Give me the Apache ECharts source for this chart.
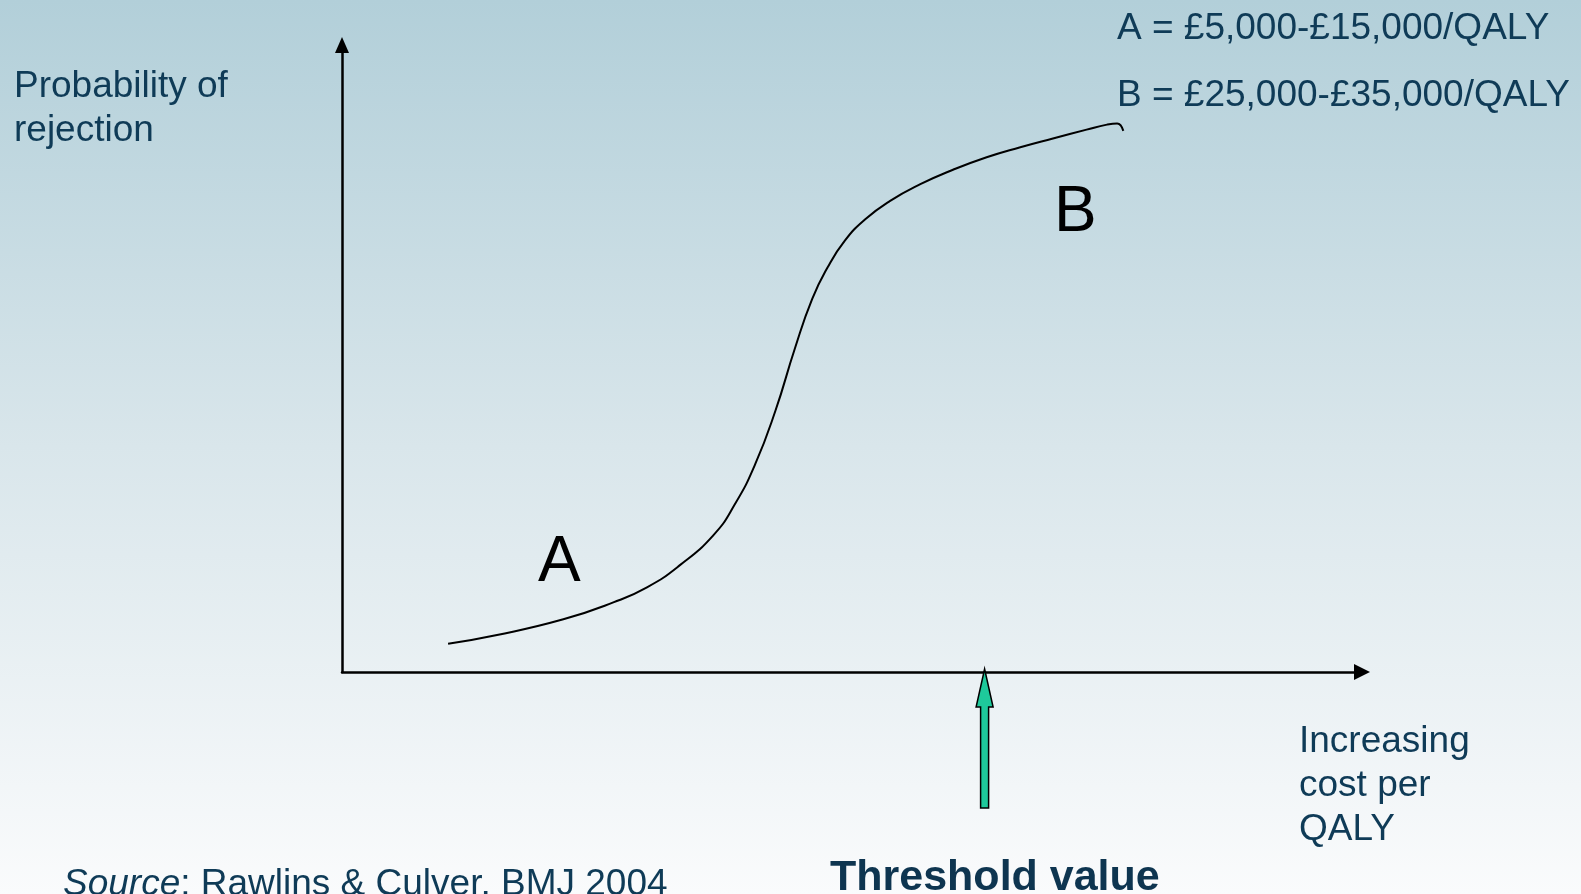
<!DOCTYPE html>
<html>
<head>
<meta charset="utf-8">
<title>Probability of rejection vs cost per QALY</title>
<script src="https://cdn.jsdelivr.net/npm/echarts@6/dist/echarts.min.js"></script>
<style>
  html, body { margin: 0; padding: 0; }
  #chart { width: 1581px; height: 894px; }
</style>
</head>
<body>
<div id="chart"></div>
<script>
  // curve, axes run 0..100 in both directions
  const costX = [10.4, 15.2, 21.7, 26.6, 29.9, 33.1, 36.4, 38.5, 40.5, 42.5, 44.4, 46.1, 47.6,
    49.3, 51.3, 53.7, 56.7, 59.9, 63.2, 66.5, 69.7, 73.0, 75.0, 76.0, 76.6]
  const rejectY = [4.5, 5.9, 8.4, 11.1, 13.5, 17.0, 21.8, 26.7, 33.1, 41.7, 51.6, 59.5, 64.5,
    68.8, 72.2, 75.1, 77.8, 80.1, 82.1, 83.7, 85.1, 86.5, 87.3, 87.5, 86.3]
  const thresholdX = 63
  const rangeLabels = ['A = £5,000-£15,000/QALY', 'B = £25,000-£35,000/QALY']

  const navy = '#0f3b57'
  const font = 'Liberation Sans, Arial, sans-serif'

  function txt (text, left, top, size, extra) {
    return Object.assign({
      text: text,
      left: left,
      top: top,
      padding: 0,
      textStyle: {
        fontFamily: font,
        fontSize: size,
        fontWeight: 'normal',
        color: navy,
        lineHeight: 44
      }
    }, extra || {})
  }

  let chart = echarts.init(document.getElementById('chart'))
  chart.setOption({
    animation: false,
    backgroundColor: {
      type: 'linear', x: 0, y: 0, x2: 0, y2: 1,
      colorStops: [
        {offset: 0, color: '#b2cfd9'},
        {offset: 0.5, color: '#d9e6eb'},
        {offset: 1, color: '#fafbfc'}
      ]
    },
    title: [
      txt('Probability of\nrejection', 14, 65, 37),
      txt(rangeLabels[0], 1117, 7, 37),
      txt(rangeLabels[1], 1117, 74, 37),
      txt('Increasing\ncost per\nQALY', 1299, 720, 37),
      {
        text: '{i|Source}: Rawlins & Culver, BMJ 2004',
        left: 63,
        top: 863,
        padding: 0,
        textStyle: {
          fontFamily: font, fontSize: 37, fontWeight: 'normal', color: navy, lineHeight: 44,
          rich: {i: {fontFamily: font, fontSize: 37, fontStyle: 'italic', color: navy, lineHeight: 44}}
        }
      },
      {
        text: 'Threshold value',
        left: 830,
        top: 853,
        padding: 0,
        textStyle: {fontFamily: font, fontSize: 43, fontWeight: 'bold', color: '#0e3550', lineHeight: 50}
      },
      {
        text: 'A', left: 538, top: 527, padding: 0,
        textStyle: {fontFamily: font, fontSize: 64, fontWeight: 'normal', color: '#000', lineHeight: 72}
      },
      {
        text: 'B', left: 1054, top: 177, padding: 0,
        textStyle: {fontFamily: font, fontSize: 64, fontWeight: 'normal', color: '#000', lineHeight: 72}
      }
    ],
    grid: {left: 342, right: 219, top: 45, bottom: 222, containLabel: false},
    xAxis: {
      type: 'value', min: 0, max: 100,
      axisLine: {show: true, symbol: ['none', 'triangle'], symbolSize: [16, 16], lineStyle: {color: '#000', width: 2.5}},
      axisTick: {show: false}, axisLabel: {show: false}, splitLine: {show: false}
    },
    yAxis: {
      type: 'value', min: 0, max: 100,
      axisLine: {show: true, symbol: ['none', 'triangle'], symbolSize: [14, 16], lineStyle: {color: '#000', width: 2.5}},
      axisTick: {show: false}, axisLabel: {show: false}, splitLine: {show: false}
    },
    series: [
      {
        type: 'line',
        data: costX.map((x, i) => [x, rejectY[i]]),
        smooth: 0.5,
        showSymbol: false,
        lineStyle: {color: '#000', width: 2}
      },
      {
        // green threshold arrow pointing at the x axis
        type: 'custom',
        clip: false,
        data: [[thresholdX, 0]],
        renderItem: function (params, api) {
          const p = api.coord([api.value(0), api.value(1)])
          const x = p[0]
          const y = p[1]
          return {
            type: 'polygon',
            shape: {
              points: [[x, y - 3], [x + 8.5, y + 35], [x + 4, y + 35], [x + 4, y + 136],
                [x - 4, y + 136], [x - 4, y + 35], [x - 8.5, y + 35]]
            },
            style: {fill: '#1ec99b', stroke: '#000', lineWidth: 1.5}
          }
        }
      }
    ]
  })
</script>
</body>
</html>
